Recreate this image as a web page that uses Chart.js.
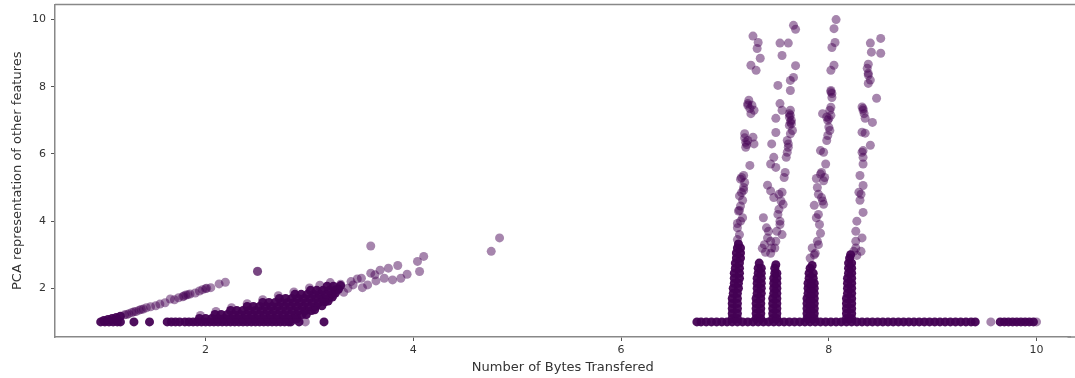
<!DOCTYPE html>
<html>
<head>
<meta charset="utf-8">
<title>Bytes vs PCA</title>
<script src="https://cdn.jsdelivr.net/npm/chart.js@4/dist/chart.umd.min.js"></script>
<style>
    html, body { margin: 0; padding: 0; overflow: hidden; background: #fff; }
    #wrap { width: 1075px; height: 378px; }
</style>
</head>
<body>
<div id="wrap"><canvas id="scatterChart"></canvas></div>
<script>
// ticks
const xTicks = [2, 4, 6, 8, 10];
const yTicks = [2, 4, 6, 8, 10];

// points sitting on the y = 1 floor
const baseY = 1;
const baseLeftX = [0.99, 1.03, 1.07, 1.11, 1.15, 1.18, 1.31, 1.46,
    1.63, 1.67, 1.71, 1.75, 1.80, 1.84, 1.88, 1.92, 1.96, 2.00, 2.04, 2.08, 2.12, 2.16, 2.20,
    2.24, 2.28, 2.32, 2.36, 2.40, 2.44, 2.48, 2.52, 2.56, 2.60, 2.64, 2.68, 2.72, 2.76, 2.80,
    2.82, 2.90, 3.14];
const baseRightX = [6.73, 6.77, 6.82, 6.87, 6.92, 6.97, 7.02, 7.07, 7.12, 7.17, 7.22, 7.27,
    7.32, 7.37, 7.42, 7.47, 7.52, 7.57, 7.62, 7.67, 7.72, 7.77, 7.82, 7.87, 7.92, 7.97, 8.02,
    8.07, 8.12, 8.17, 8.22, 8.27, 8.32, 8.37, 8.42, 8.47, 8.52, 8.57, 8.62, 8.67, 8.72, 8.77,
    8.82, 8.87, 8.92, 8.97, 9.02, 9.07, 9.12, 9.17, 9.22, 9.27, 9.32, 9.37, 9.41,
    9.65, 9.69, 9.73, 9.77, 9.81, 9.85, 9.89, 9.93, 9.97];
const baseLightX = [2.96, 9.56, 10.0];

// left cluster
const diagStart = [[1.02, 1.04], [1.06, 1.07], [1.10, 1.10], [1.14, 1.13], [1.18, 1.17]];
const diagPts = [[1.22, 1.21], [1.24, 1.22], [1.26, 1.24], [1.29, 1.28], [1.31, 1.30], [1.33, 1.31],
    [1.36, 1.35], [1.38, 1.37], [1.40, 1.38], [1.43, 1.42], [1.47, 1.45], [1.52, 1.48],
    [1.56, 1.53], [1.61, 1.57], [1.66, 1.68], [1.70, 1.66], [1.74, 1.72], [1.78, 1.75],
    [1.79, 1.77], [1.81, 1.80], [1.83, 1.81], [1.85, 1.83], [1.90, 1.86], [1.94, 1.92],
    [1.97, 1.96], [2.00, 1.99], [2.01, 2.00], [2.05, 2.02], [2.13, 2.13], [2.19, 2.18],
    [2.50, 2.50], [2.50, 2.51]];
const wedgeCore = [
    [1.94, 1.10], [2.00, 1.10], [2.06, 1.10], [2.12, 1.10], [2.18, 1.10], [2.24, 1.10], [2.30, 1.10],
    [2.36, 1.10], [2.42, 1.10], [2.48, 1.10], [2.54, 1.10], [2.60, 1.10], [2.66, 1.10], [2.72, 1.10],
    [2.78, 1.10], [2.84, 1.10], [2.88, 1.10],
    [2.09, 1.22], [2.15, 1.22], [2.21, 1.22], [2.27, 1.22], [2.33, 1.22], [2.39, 1.22], [2.45, 1.22],
    [2.51, 1.22], [2.57, 1.22], [2.63, 1.22], [2.69, 1.22], [2.75, 1.22], [2.81, 1.22], [2.87, 1.22],
    [2.93, 1.22], [2.97, 1.22],
    [2.24, 1.34], [2.30, 1.34], [2.36, 1.34], [2.42, 1.34], [2.48, 1.34], [2.54, 1.34], [2.60, 1.34],
    [2.66, 1.34], [2.72, 1.34], [2.78, 1.34], [2.84, 1.34], [2.90, 1.34], [2.96, 1.34], [3.02, 1.34],
    [3.05, 1.36],
    [2.40, 1.46], [2.46, 1.46], [2.52, 1.46], [2.58, 1.46], [2.64, 1.46], [2.70, 1.46], [2.76, 1.46],
    [2.82, 1.46], [2.88, 1.46], [2.94, 1.46], [3.00, 1.46], [3.06, 1.46], [3.12, 1.48],
    [2.55, 1.58], [2.61, 1.58], [2.67, 1.58], [2.73, 1.58], [2.79, 1.58], [2.85, 1.58], [2.91, 1.58],
    [2.97, 1.58], [3.03, 1.58], [3.09, 1.58], [3.15, 1.60], [3.18, 1.62],
    [2.71, 1.70], [2.77, 1.70], [2.83, 1.70], [2.89, 1.70], [2.95, 1.70], [3.01, 1.70], [3.07, 1.70],
    [3.13, 1.70], [3.19, 1.72], [3.22, 1.74],
    [2.86, 1.82], [2.92, 1.82], [2.98, 1.82], [3.04, 1.82], [3.10, 1.82], [3.16, 1.82], [3.22, 1.84],
    [3.25, 1.86],
    [3.01, 1.94], [3.07, 1.94], [3.13, 1.94], [3.19, 1.94], [3.25, 1.96], [3.28, 1.98],
    [3.17, 2.06], [3.23, 2.06], [3.30, 2.08]];
const wedgePts = [[1.95, 1.19], [2.10, 1.31], [2.25, 1.42], [2.40, 1.54], [2.55, 1.66],
    [2.70, 1.78], [2.85, 1.89], [3.00, 2.01], [3.10, 2.09], [3.20, 2.17], [3.10, 1.90],
    [3.05, 1.80], [3.12, 1.75], [3.15, 1.64], [3.19, 1.72], [3.23, 1.80], [3.27, 1.95],
    [3.33, 1.88], [3.37, 2.00], [3.30, 2.12], [3.40, 2.20], [3.46, 2.28], [3.42, 2.10],
    [3.51, 2.02], [3.56, 2.10], [3.50, 2.30], [3.59, 2.45], [3.63, 2.40], [3.68, 2.54],
    [3.64, 2.22], [3.72, 2.30], [3.76, 2.60], [3.80, 2.25], [3.85, 2.68], [3.88, 2.30],
    [3.94, 2.42], [4.04, 2.80], [4.10, 2.95], [4.06, 2.50], [3.59, 3.26], [4.75, 3.10], [4.83, 3.50]];

// right columns: solid lower parts
const colCore = [
    [7.07, 1.10], [7.12, 1.10], [7.07, 1.25], [7.12, 1.25], [7.07, 1.40], [7.12, 1.40],
    [7.07, 1.55], [7.12, 1.55], [7.07, 1.70], [7.12, 1.70], [7.08, 1.85], [7.12, 1.85],
    [7.08, 2.00], [7.13, 2.00], [7.09, 2.15], [7.13, 2.15], [7.09, 2.30], [7.14, 2.30],
    [7.09, 2.45], [7.14, 2.45], [7.10, 2.60], [7.14, 2.60], [7.10, 2.75], [7.14, 2.75],
    [7.11, 2.90], [7.15, 2.90], [7.11, 3.05], [7.15, 3.05], [7.12, 3.20], [7.15, 3.20], [7.13, 3.32],
    [7.30, 1.10], [7.345, 1.10], [7.30, 1.25], [7.345, 1.25], [7.30, 1.40], [7.345, 1.40],
    [7.30, 1.55], [7.345, 1.55], [7.30, 1.70], [7.345, 1.70], [7.31, 1.85], [7.35, 1.85],
    [7.31, 2.00], [7.35, 2.00], [7.31, 2.15], [7.35, 2.15], [7.31, 2.30], [7.35, 2.30],
    [7.32, 2.45], [7.35, 2.45], [7.32, 2.60], [7.35, 2.60], [7.33, 2.75],
    [7.46, 1.10], [7.50, 1.10], [7.46, 1.25], [7.50, 1.25], [7.46, 1.40], [7.50, 1.40],
    [7.46, 1.55], [7.50, 1.55], [7.46, 1.70], [7.50, 1.70], [7.47, 1.85], [7.50, 1.85],
    [7.47, 2.00], [7.50, 2.00], [7.47, 2.15], [7.50, 2.15], [7.47, 2.30], [7.50, 2.30],
    [7.48, 2.45], [7.50, 2.45], [7.48, 2.60], [7.49, 2.70],
    [7.79, 1.10], [7.825, 1.10], [7.86, 1.10], [7.79, 1.25], [7.825, 1.25], [7.86, 1.25],
    [7.79, 1.40], [7.825, 1.40], [7.86, 1.40], [7.79, 1.55], [7.825, 1.55], [7.86, 1.55],
    [7.79, 1.70], [7.825, 1.70], [7.86, 1.70], [7.80, 1.85], [7.83, 1.85], [7.86, 1.85],
    [7.80, 2.00], [7.83, 2.00], [7.86, 2.00], [7.80, 2.15], [7.83, 2.15], [7.86, 2.15],
    [7.81, 2.30], [7.85, 2.30], [7.81, 2.45], [7.85, 2.45], [7.82, 2.60], [7.84, 2.68],
    [8.17, 1.10], [8.22, 1.10], [8.17, 1.25], [8.22, 1.25], [8.17, 1.40], [8.22, 1.40],
    [8.17, 1.55], [8.22, 1.55], [8.17, 1.70], [8.22, 1.70], [8.18, 1.85], [8.22, 1.85],
    [8.18, 2.00], [8.22, 2.00], [8.18, 2.15], [8.22, 2.15], [8.18, 2.30], [8.22, 2.30],
    [8.19, 2.45], [8.22, 2.45], [8.19, 2.60], [8.22, 2.60], [8.19, 2.75], [8.22, 2.75],
    [8.20, 2.90], [8.21, 3.00]];

// right columns: scattered upper parts
const colAPts = [[7.27, 9.51], [7.32, 9.32], [7.31, 9.14], [7.34, 8.85], [7.25, 8.64], [7.30, 8.49],
    [7.23, 7.60], [7.22, 7.50], [7.26, 7.45], [7.24, 7.35], [7.28, 7.30], [7.25, 7.20],
    [7.19, 6.60], [7.27, 6.50], [7.19, 6.48], [7.22, 6.40], [7.21, 6.28], [7.28, 6.30],
    [7.20, 6.20], [7.24, 5.66], [7.18, 5.36], [7.16, 5.30], [7.19, 5.15], [7.18, 5.00],
    [7.18, 4.92], [7.16, 4.85], [7.14, 4.75], [7.17, 4.62], [7.14, 4.32], [7.13, 4.30],
    [7.17, 4.10], [7.15, 4.00], [7.12, 3.93], [7.12, 3.80], [7.14, 3.60], [7.12, 3.45],
    [7.22, 7.45], [7.20, 6.35], [7.15, 5.25], [7.15, 4.45]];
const colBCPts = [[7.66, 9.83], [7.68, 9.71], [7.53, 9.30], [7.61, 9.30], [7.55, 8.93], [7.68, 8.63],
    [7.66, 8.28], [7.63, 8.19], [7.51, 8.04], [7.63, 7.89], [7.53, 7.50], [7.55, 7.30],
    [7.63, 7.30], [7.63, 7.15], [7.62, 7.10], [7.64, 7.00], [7.64, 6.90], [7.62, 6.85],
    [7.65, 6.70], [7.63, 6.60], [7.49, 7.06], [7.49, 6.64], [7.60, 6.40], [7.61, 6.20],
    [7.60, 6.05], [7.59, 5.90], [7.45, 6.30], [7.47, 5.90], [7.44, 5.70], [7.49, 5.60],
    [7.58, 5.45], [7.41, 5.07], [7.44, 4.90], [7.47, 4.70], [7.55, 4.86], [7.56, 4.50],
    [7.51, 4.20], [7.53, 3.90], [7.55, 3.60], [7.37, 4.10], [7.40, 3.80], [7.41, 3.50],
    [7.36, 3.19], [7.44, 3.40], [7.45, 3.20], [7.44, 3.04], [7.39, 3.07], [7.42, 3.70],
    [7.50, 3.70], [7.48, 3.20], [7.52, 4.80], [7.54, 4.60], [7.52, 4.35], [7.62, 7.20],
    [7.63, 6.95], [7.61, 6.30], [7.57, 5.30], [7.53, 4.00], [7.49, 3.40], [7.38, 3.30]];
const colDPts = [[8.07, 10.00], [8.05, 9.73], [8.06, 9.32], [8.03, 9.17], [8.05, 8.64], [8.02, 8.49],
    [8.02, 7.89], [8.03, 7.80], [8.03, 7.68], [8.02, 7.39], [8.01, 7.30], [7.94, 7.20],
    [7.98, 7.10], [8.02, 7.15], [7.99, 7.00], [8.00, 6.80], [8.01, 6.70], [7.99, 6.55],
    [7.98, 6.40], [7.92, 6.10], [7.95, 6.05], [7.97, 5.70], [7.92, 5.40], [7.95, 5.20],
    [7.96, 5.30], [7.88, 5.27], [7.89, 5.00], [7.90, 4.80], [7.93, 4.70], [7.94, 4.60],
    [7.95, 4.50], [7.86, 4.47], [7.88, 4.10], [7.91, 3.90], [7.92, 3.64], [7.89, 3.40],
    [7.84, 3.20], [7.87, 3.04], [7.82, 2.90], [7.90, 3.30], [8.02, 7.85], [8.00, 7.05],
    [7.93, 5.45], [7.90, 4.20], [7.86, 3.00]];
const colEPts = [[8.50, 9.44], [8.40, 9.30], [8.41, 9.03], [8.50, 9.00], [8.38, 8.67], [8.37, 8.55],
    [8.38, 8.40], [8.40, 8.20], [8.38, 8.10], [8.46, 7.66], [8.32, 7.40], [8.33, 7.30],
    [8.34, 7.20], [8.35, 7.06], [8.42, 6.94], [8.32, 6.65], [8.35, 6.62], [8.40, 6.26],
    [8.33, 6.10], [8.33, 5.90], [8.33, 5.70], [8.30, 5.36], [8.33, 5.06], [8.29, 4.86],
    [8.31, 4.80], [8.30, 4.62], [8.33, 4.26], [8.27, 4.00], [8.26, 3.70], [8.32, 3.50],
    [8.26, 3.20], [8.31, 3.10], [8.27, 2.98], [8.38, 8.35], [8.33, 7.35], [8.32, 6.05],
    [8.26, 3.40], [8.24, 3.10]];

const toPts = pairs => pairs.map(([x, y]) => ({ x: x, y: y }));
const rowPts = (xs, y) => xs.map(x => ({ x: x, y: y }));

const denseData = [].concat(rowPts(baseLeftX, baseY), rowPts(baseRightX, baseY),
    toPts(diagStart), toPts(wedgeCore), toPts(colCore));
const lightData = [].concat(rowPts(baseLightX, baseY), toPts(diagPts), toPts(wedgePts),
    toPts(colAPts), toPts(colBCPts), toPts(colDPts), toPts(colEPts));

const spineColor = '#888';

// the original is cropped on the right: spines run off the edge, no right spine
const openFrame = {
    id: 'openFrame',
    afterDraw(chart) {
        const { ctx, chartArea } = chart;
        ctx.save();
        ctx.fillStyle = '#fff';
        ctx.fillRect(chartArea.right - 2, chartArea.top + 1,
            chart.width - chartArea.right + 2, chartArea.bottom - chartArea.top - 2);
        ctx.strokeStyle = spineColor;
        ctx.lineWidth = 1.5;
        ctx.beginPath();
        ctx.moveTo(chartArea.left, chartArea.top);
        ctx.lineTo(chart.width, chartArea.top);
        ctx.moveTo(chartArea.right - 3, chartArea.bottom);
        ctx.lineTo(chart.width, chartArea.bottom);
        ctx.stroke();
        ctx.restore();
    }
};

const tickFont = { family: 'DejaVu Sans', size: 11 };
const titleFont = { family: 'DejaVu Sans', size: 13 };

const ctx = document.getElementById('scatterChart').getContext('2d');
const scatterChart = new Chart(ctx, {
    type: 'scatter',
    data: {
        datasets: [
            {
                label: 'dense',
                data: denseData,
                backgroundColor: 'rgba(68, 1, 84, 0.95)',
                borderWidth: 0,
                pointRadius: 4.5
            },
            {
                label: 'points',
                data: lightData,
                backgroundColor: 'rgba(68, 1, 84, 0.48)',
                borderWidth: 0,
                pointRadius: 4.5
            }
        ]
    },
    options: {
        responsive: true,
        maintainAspectRatio: false,
        animation: false,
        layout: { padding: { top: 3, right: 0, bottom: 0, left: 0 } },
        plugins: {
            legend: { display: false },
            tooltip: { enabled: false }
        },
        scales: {
            x: {
                type: 'linear',
                min: 0.55,
                max: 10.327,
                afterBuildTicks: s => { s.ticks = xTicks.map(v => ({ value: v })); },
                afterFit: s => { s.height = 41; s.paddingLeft = 0; s.paddingRight = 0; },
                grid: { drawOnChartArea: false, drawTicks: true, tickLength: 4, tickColor: '#555' },
                border: { color: spineColor, width: 1.5 },
                ticks: { color: '#333', font: tickFont, padding: 3, maxRotation: 0 },
                title: {
                    display: true,
                    text: 'Number of Bytes Transfered',
                    color: '#333',
                    font: titleFont,
                    padding: { top: 0, bottom: 3 }
                }
            },
            y: {
                type: 'linear',
                min: 0.55,
                max: 10.45,
                afterBuildTicks: s => { s.ticks = yTicks.map(v => ({ value: v })); },
                afterFit: s => { s.width = 55; s.paddingTop = 0; s.paddingBottom = 0; },
                grid: { drawOnChartArea: false, drawTicks: true, tickLength: 4, tickColor: '#555' },
                border: { color: spineColor, width: 1.5 },
                ticks: { color: '#333', font: tickFont, padding: 5 },
                title: {
                    display: true,
                    text: 'PCA representation of other features',
                    color: '#333',
                    font: titleFont,
                    padding: { top: 10, bottom: 0 }
                }
            }
        }
    },
    plugins: [openFrame]
});
</script>
</body>
</html>
